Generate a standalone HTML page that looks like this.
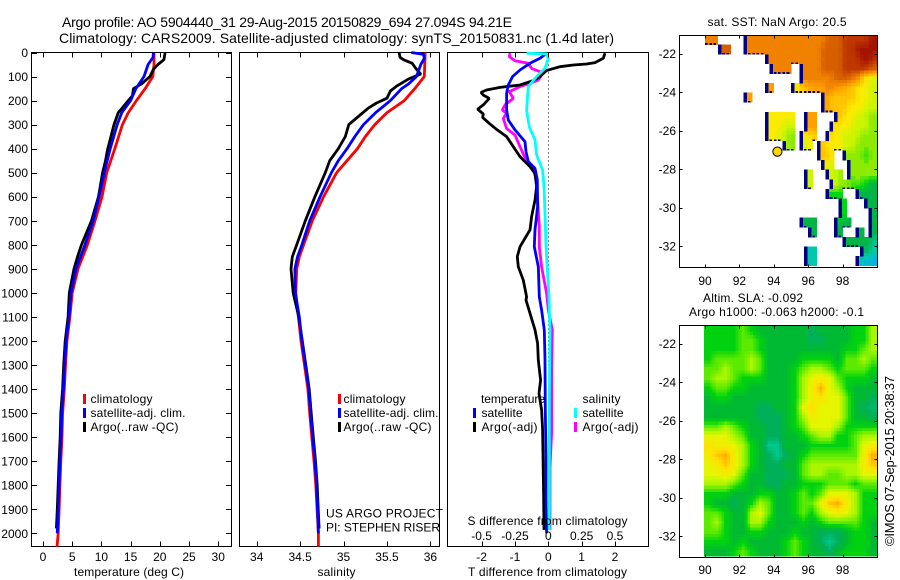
<!DOCTYPE html>
<html lang="en">
<head>
<meta charset="utf-8">
<title>Argo profile</title>
<style>
html,body{margin:0;padding:0;background:#fff;width:900px;height:580px;overflow:hidden}
svg{display:block;font-family:"Liberation Sans",sans-serif;fill:#000}
text{font-size:12px}
</style>
</head>
<body>
<svg id="chart" xmlns="http://www.w3.org/2000/svg" width="900" height="580" viewBox="0 0 900 580">
<rect width="900" height="580" fill="#fff"/>
<text x="62" y="27" style="font-size:14px" textLength="450">Argo profile: AO 5904440_31 29-Aug-2015 20150829_694 27.094S 94.21E</text>
<text x="59" y="43" style="font-size:14px" textLength="555">Climatology: CARS2009. Satellite-adjusted climatology: synTS_20150831.nc (1.4d later)</text>
<text transform="translate(894,546) rotate(-90)" x="0" y="0" style="font-size:13px" textLength="170">©IMOS 07-Sep-2015 20:38:37</text>
</svg>
<script>
// ---------- Depth axis ----------
const depthTicks = [0,100,200,300,400,500,600,700,800,900,1000,1100,1200,1300,1400,1500,1600,1700,1800,1900,2000];

// ---------- Temperature panel ----------
const tempTicks = [0,5,10,15,20,25,30];
const climTempDepth = [0,50,100,150,200,250,300,400,500,600,700,800,900,1000,1100,1200,1300,1400,1500,1600,1700,1800,1900,2000,2056];
const climTemp = [19,19,18.8,17.5,16,14.6,13.6,12.3,10.9,10.1,8.9,7.6,6,5,4.6,4.1,3.85,3.65,3.35,3.25,3.05,2.9,2.75,2.6,2.4];
const satTempDepth = [0,20,50,100,150,200,250,300,400,500,600,700,800,900,1000,1100,1200,1300,1400,1500,1600,1700,1800,1900,2000];
const satTemp = [18.9,18.85,18,17.3,15.9,15,13.5,12.7,11.5,10.5,9.6,8.6,7.2,5.65,4.8,4.45,3.95,3.7,3.5,3.2,3.1,2.9,2.75,2.6,2.45];
const argoTempDepth = [0,30,50,70,100,130,150,180,200,230,250,300,400,450,500,600,700,800,850,900,1000,1100,1200,1300,1400,1500,1600,1700,1800,1900,1980];
const argoTemp = [20.9,20.7,19.7,18.9,18.3,16.9,15.5,15.3,14.6,13.6,12.9,12.15,11.1,10.7,10.2,9.5,8.3,6.6,5.9,5.3,4.5,4.3,3.8,3.55,3.35,3.05,2.95,2.75,2.6,2.45,2.3];

// ---------- Salinity panel ----------
const salTicks = [34,34.5,35,35.5,36];
const climSalDepth = [0,100,150,200,250,300,350,400,450,500,600,700,800,850,900,1000,1100,1200,1300,1400,1500,1600,1700,1800,1900,2000,2056];
const climSal = [35.94,35.93,35.82,35.7,35.5,35.36,35.25,35.16,35.04,34.92,34.77,34.64,34.54,34.49,34.46,34.45,34.48,34.51,34.55,34.59,34.61,34.635,34.66,34.68,34.695,34.71,34.71];
const satSalDepth = [0,8,25,50,100,130,150,200,250,300,350,400,450,500,600,700,800,850,900,1000,1100,1200,1300,1400,1500,1600,1700,1800,1900,2000];
const satSal = [35.78,35.92,35.93,35.89,35.84,35.75,35.67,35.54,35.37,35.23,35.13,35.04,34.94,34.86,34.73,34.61,34.52,34.47,34.44,34.445,34.49,34.52,34.56,34.6,34.62,34.645,34.67,34.69,34.7,34.71];
const argoSalDepth = [0,20,30,45,55,70,90,110,140,160,190,210,230,260,300,350,400,450,500,600,700,800,850,900,1000,1100,1200,1300,1400,1500,1600,1700,1800,1900,1980];
const argoSal = [35.64,35.65,35.69,35.79,35.81,35.84,35.89,35.75,35.61,35.54,35.5,35.38,35.29,35.19,35.06,35.02,34.94,34.84,34.79,34.67,34.56,34.46,34.41,34.395,34.42,34.485,34.525,34.565,34.605,34.628,34.652,34.677,34.697,34.708,34.718];

// ---------- Difference panel ----------
const tDiffTicks = [-2,-1,0,1,2];
const sDiffTicks = ["-0.5","-0.25","0","0.25","0.5"];
const diffTempArgoDepth = [3,24,42,48,52,59,75,100,117,135,145,156,166,177,191,218,236,256,270,295,320,350,392,433,475,503,558,614,683,738,808,849,891,947,1016,1030,1085,1154,1210,1279,1363,1418,1487,1570,1834,1986];
const diffTempArgo = [1.7,1.65,1.4,1.15,0.75,0.35,-0.05,-0.25,-0.45,-0.85,-1.45,-1.85,-2.02,-1.95,-1.77,-1.95,-2.12,-1.95,-1.97,-1.77,-1.55,-1.25,-1.05,-0.85,-0.55,-0.4,-0.35,-0.4,-0.5,-0.55,-0.85,-0.93,-0.9,-0.75,-0.65,-0.67,-0.55,-0.4,-0.32,-0.3,-0.23,-0.28,-0.2,-0.17,-0.14,-0.13];
const diffTempSatDepth = [3,24,45,73,100,135,170,239,281,322,371,412,454,482,530,641,738,808,891,1016,1071,1154,1279,1487,1681,1862,2000];
const diffTempSat = [-0.05,-0.25,-0.55,-0.85,-1.07,-1.2,-1.25,-1.25,-1.2,-1,-0.7,-0.67,-0.6,-0.4,-0.33,-0.32,-0.4,-0.42,-0.3,-0.27,-0.2,-0.12,-0.1,-0.09,-0.07,-0.07,-0.05];
const diffSalArgoDepth = [3,17,34,45,66,80,94,114,128,142,163,191,218,239,253,274,316,343,392,447,489,530,614,725,808,891,1002,1071,1154,1307,1584,1723,1986];
const diffSalArgo = [-0.2875,-0.2925,-0.25,-0.15,-0.125,-0.0625,-0.05,-0.075,-0.1375,-0.2125,-0.2925,-0.2625,-0.325,-0.345,-0.3125,-0.3375,-0.3125,-0.25,-0.2125,-0.1675,-0.1125,-0.0875,-0.08,-0.0675,-0.0675,-0.05,-0.0125,0,0.03,0.025,0.025,0.0125,0.0125];
const diffSalSatDepth = [3,6,24,66,100,142,198,239,309,364,426,489,558,669,808,1016,1071,1154,1445,1723,1986];
const diffSalSat = [-0.1625,-0.0125,0,-0.025,-0.0875,-0.15,-0.1575,-0.1625,-0.1425,-0.1,-0.0875,-0.0425,-0.0325,-0.025,-0.0175,0.005,0.0075,0.0125,0.0075,0.0075,0.0075];

// ---------- Maps ----------
const lonTicks = [90,92,94,96,98];
const latTicks = [-22,-24,-26,-28,-30,-32];
const argoLon = 94.21;
const argoLat = -27.094;
// SST colour-level cells: [startColumn, "levels", ...] per 0.5-degree row, columns 0.25 degree wide from 90E
const sstRows = [
[0,"333",9,"3333333333333333333222211111100"],
[3,"222",9,"3333333333333333332222211100000"],
[14,"33333333333332222211110001"],
[15,"33333",22,"333332222211111122"],
[22,"333333332222335667"],
[14,"44",20,"66554444334445566677"],
[9,"44",27,"4455555566677"],
[27,"4455556666777"],
[14,"6666666",23,"444",30,"5566677788"],
[14,"6666777",23,"444",29,"56666777788"],
[14,"6667788",22,"7665",28,"566677778888"],
[18,"788",22,"776",26,"55666677788888"],
[26,"5556",32,"88888988"],
[27,"667",33,"8888888"],
[23,"77",28,"7778",33,"8888888"],
[23,"77",29,"77888",34,"9899aa"],
[28,"9999",35,"aaaaa"],
[31,"99",37,"aaa"],
[31,"99",38,"aa"],
[22,"aaaa",30,"9aaa",38,"aa"],
[24,"aa",30,"aa",35,"aa",38,"aa"],
[32,"aaaaaa",38,"ab"],
[23,"bbb",36,"aabb"],
[23,"bbb",35,"bbcbc"]
];
const sstPalette = [[165,20,0],[190,55,0],[215,95,0],[240,130,0],[255,160,0],[255,195,0],[250,235,0],[205,245,0],[140,235,0],[0,215,20],[0,180,70],[0,200,170],[0,170,255]];
// SLA colour levels: 24 rows (0.5 deg lat) by 20 columns (0.5 deg lon)
const slaRows = [
[3,3,3,3,4,3,2,2,2,2,2,2,1,2,2,2,2,3,3,5],
[3,3,3,3,4,4,3,2,2,2,2,2,1,1,2,2,2,3,3,5],
[3,3,3,3,4,4,3,2,2,2,2,2,2,2,2,2,3,3,4,5],
[3,4,4,4,4,5,4,2,2,2,2,3,3,3,3,2,4,4,5,4],
[4,4,5,4,4,5,4,2,2,2,3,4,5,5,4,3,4,4,4,3],
[4,5,5,4,3,3,3,2,2,2,3,5,6,6.5,6,4,3,3,3,2],
[3,4,4,3,3,2,2,2,2,2,3,5,6.5,8,6,5,3,2,2,2],
[2,3,3,2,2,2,2,2,2,2,3,5,6.5,7,6,6,4,2,2,1],
[2,2,2,2,2,2,1,1,2,2,3,6,7,6,6,6,4,2,1,0.6],
[2,2,2,2,2,2,1,1,1,2,3,5,6.5,6,6,6,4,2,2,1],
[4,4,5,4,3,2,2,1,1,2,3,4,6,6,6,5,3,3,3,3],
[6,6,6,5,4,2,2,1,1,2,2,3,4,5,5,3,3,4,5,5],
[7,6.5,6.5,6,5,3,2,0,0,2,2,2,3,3,3,3,3,4,6,6.5],
[6.5,7.5,8,6.5,5,3,2,1,0,1,2,3,4,4,4,4,4,4,6.5,8],
[6,6.5,7.5,6.5,5,3,2,1,1,2,2,4,5,5,5,5,5,5,6.5,7.5],
[6,6,6.5,6,4,2,2,1,1,1,2,4,5,5,4,4,5,5,6,6],
[5,5,5,4,3,2,2,1,1,2,2,3,3,3,4,4,4,3,4,4],
[3,3,3,2,2,2,3,3,2,2,3,4,3,4,6,6,6,5,3,3],
[3,2,2,1,2,3,5,4,2,2,3,4,4,6,7.5,8,6.5,5,3,3],
[4,4,3,2,2,5,6,4,2,2,3,4,3,5,6,6.5,6,5,3,3],
[4,5,3,2,2,5,5,3,2,2,2,3,2,3,4,4,4,4,3,2],
[4,4,3,2,2,3,3,2,2,2,3,2,2,1,1,1,2,3,3,2],
[3,3,3,2,3,2,2,2,2,3,4,3,2,1,0,1,2,3,3,2],
[2,2,2,3,4,3,2,2,2,3,4,3,2,2,1,2,3,3,3,2]
];
const slaPalette = [[0,200,140],[0,175,90],[0,185,50],[0,210,15],[90,235,0],[170,245,0],[230,245,0],[255,225,0],[255,175,0]];

// ---------- Axis functions ----------
const svg = document.getElementById('chart');
const NS = 'http://www.w3.org/2000/svg';
const PT = 52.5, PB = 546.5;
const depthY = d => 52.5 + 0.2404 * d;
const tempX = t => 43 + 5.84 * t;
const salX = s => 256.7 + 86.85 * (s - 34);
const tDiffX = t => 548.3 + 33.33 * t;
const sDiffX = s => 548.3 + 133.33 * s;
const lonX = l => 705 + 17.2 * (l - 90);
const map1Y = l => 53.7 + 19.23 * (-22 - l);
const map2Y = l => 343.7 + 19.23 * (-22 - l);

function mk(tag, attrs, parent) {
  const el = document.createElementNS(NS, tag);
  for (const k in attrs) el.setAttribute(k, attrs[k]);
  (parent || svg).appendChild(el);
  return el;
}
function txt(str, x, y, anchor, len) {
  const el = mk('text', {x: x, y: y, 'text-anchor': anchor || 'start'});
  if (len) el.setAttribute('textLength', len);
  el.textContent = str;
  return el;
}
function seg(g, x1, y1, x2, y2) {
  return mk('line', {x1: x1, y1: y1, x2: x2, y2: y2, stroke: '#000', 'stroke-width': 1, 'shape-rendering': 'crispEdges'}, g);
}
function frame(name, l, t, r, b) {
  const f = mk('rect', {x: l, y: t, width: r - l, height: b - t, fill: 'none', stroke: '#000', 'stroke-width': 1, 'shape-rendering': 'crispEdges'});
  
  
}
function profile(name, xs, depths, scaleX, color, width) {
  const pts = xs.map((v, i) => scaleX(v).toFixed(1) + ',' + depthY(depths[i]).toFixed(1)).join(' ');
  const p = mk('polyline', {points: pts, fill: 'none', stroke: color, 'stroke-width': width || 2.8, 'stroke-linejoin': 'bevel'});
  
  
}
function legendEntry(name, label, swatchX, textX, cy, color, len) {
  const s = mk('rect', {x: swatchX, y: cy - 5, width: 3, height: 10, fill: color, 'shape-rendering': 'crispEdges'});
  
  
  const t = txt(label, textX, cy + 4, 'start', len);
  
  
}
function paletteColour(pal, v) {
  const i = Math.max(0, Math.min(pal.length - 2, Math.floor(v))), t = Math.max(0, Math.min(1, v - i));
  const p = pal[i], q = pal[i + 1];
  return 'rgb(' + [0, 1, 2].map(k => Math.round(p[k] + (q[k] - p[k]) * t)).join(',') + ')';
}

// ---------- Maps first (underneath frames) ----------
(function drawSST() {
  const g = mk('g', {'shape-rendering': 'crispEdges'});
  
  
  const grid = sstRows.map(spans => {
    const row = new Array(40).fill(null);
    for (let i = 0; i < spans.length; i += 2) {
      const start = spans[i], levels = spans[i + 1];
      for (let j = 0; j < levels.length; j++) {
        if (start + j < 40) row[start + j] = parseInt(levels[j], 16);
      }
    }
    return row;
  });
  const top = map1Y(-21.03);
  const cw = 0.25 * 17.2, ch = 0.5 * 19.23, sub = 3;
  const val = (r, c) => (r < 0 || r >= grid.length || c < 0 || c >= 40) ? null : grid[r][c];
  grid.forEach((row, r) => {
    row.forEach((v, c) => {
      if (v === null) return;
      const x = lonX(90 + c * 0.25), y = top + r * ch;
      const l = val(r, c - 1), rr = val(r, c + 1);
      let h = v, w = 1;
      if (l !== null) { h += 0.4 * l; w += 0.4; }
      if (rr !== null) { h += 0.4 * rr; w += 0.4; }
      h /= w;
      for (let s = 0; s < sub; s++) {
        const t = (s + 0.5) / sub - 0.5;
        const n = val(t < 0 ? r - 1 : r + 1, c);
        const a = Math.abs(t);
        const shade = n === null ? h : h * (1 - a) + n * a;
        const cell = mk('rect', {x: x.toFixed(2), y: (y + s * ch / sub).toFixed(2), width: (cw + 0.3).toFixed(2), height: (ch / sub + 0.3).toFixed(2), fill: paletteColour(sstPalette, shade)}, g);
        
        
      }
    });
  });
  grid.forEach((row, r) => {
    row.forEach((v, c) => {
      if (v === null) return;
      const x = lonX(90 + c * 0.25), y = top + r * ch;
      if (c > 0 && row[c - 1] === null) {
        const e = mk('rect', {x: x.toFixed(2), y: y.toFixed(2), width: 3.5, height: (ch + 0.3).toFixed(2), fill: '#000080'}, g);
        
        
      }
      if (r < grid.length - 1 && grid[r + 1][c] === null) {
        const b = mk('rect', {x: x.toFixed(2), y: (y + ch - 1.5).toFixed(2), width: (cw * 0.6).toFixed(2), height: 1.8, fill: '#000080'}, g);
        
        
      }
    });
  });
})();

(function drawSLA() {
  const g = mk('g', {'shape-rendering': 'crispEdges'});
  
  
  const nr = slaRows.length, nc = slaRows[0].length, sub = 3;
  const top = map2Y(-21.05);
  const cw = 0.5 * 17.2, ch = 0.5 * 19.23;
  const at = (r, c) => slaRows[Math.max(0, Math.min(nr - 1, r))][Math.max(0, Math.min(nc - 1, c))];
  function sample(fr, fc) {
    const r0 = Math.floor(fr), c0 = Math.floor(fc), a = fr - r0, b = fc - c0;
    return at(r0, c0) * (1 - a) * (1 - b) + at(r0, c0 + 1) * (1 - a) * b + at(r0 + 1, c0) * a * (1 - b) + at(r0 + 1, c0 + 1) * a * b;
  }
  for (let r = 0; r < nr * sub; r++) {
    for (let c = 0; c < nc * sub; c++) {
      const v = sample((r + 0.5) / sub - 0.5, (c + 0.5) / sub - 0.5);
      const cell = mk('rect', {x: (lonX(90) - 1 + c * (cw + 0.05) / sub).toFixed(2), y: (top + r * ch / sub).toFixed(2), width: (cw / sub + 0.3).toFixed(2), height: (ch / sub + 0.3).toFixed(2), fill: paletteColour(slaPalette, v)}, g);
      
      
    }
  }
})();

// ---------- Panel 1: temperature ----------
frame('temperature-panel-frame', 31.5, PT, 231.5, PB);
profile('temperature-climatology-line', climTemp, climTempDepth, tempX, '#ff0000');
profile('temperature-argo-line', argoTemp, argoTempDepth, tempX, '#000000');
profile('temperature-satellite-line', satTemp, satTempDepth, tempX, '#0000ff');
(function () {
  const g = mk('g', {});
  
  
  depthTicks.forEach(d => {
    const y = Math.round(depthY(d)) + 0.5;
    seg(g, 31.5, y, 37, y);
    seg(g, 226, y, 231.5, y);
    const t = txt(String(d), 28, depthY(d) + 4.5, 'end');
    
    
  });
  tempTicks.forEach(v => {
    const x = Math.round(tempX(v)) + 0.5;
    seg(g, x, PT, x, PT + 5);
    seg(g, x, PB - 5, x, PB);
    const t = txt(String(v), tempX(v), 561, 'middle');
    
    
  });
})();
const xl1 = txt('temperature (deg C)', 129, 576, 'middle', 110);


legendEntry('temp-legend-climatology', 'climatology', 83, 90.5, 399, '#ff0000', 62);
legendEntry('temp-legend-satellite', 'satellite-adj. clim.', 83, 90.5, 413, '#0000ff', 95);
legendEntry('temp-legend-argo', 'Argo(..raw -QC)', 83, 90.5, 427, '#000000', 88);

// ---------- Panel 2: salinity ----------
frame('salinity-panel-frame', 239.5, PT, 439.5, PB);
profile('salinity-climatology-line', climSal, climSalDepth, salX, '#ff0000');
profile('salinity-argo-line', argoSal, argoSalDepth, salX, '#000000');
profile('salinity-satellite-line', satSal, satSalDepth, salX, '#0000ff');
(function () {
  const g = mk('g', {});
  
  
  salTicks.forEach(v => {
    const x = Math.round(salX(v)) + 0.5;
    seg(g, x, PT, x, PT + 5);
    seg(g, x, PB - 5, x, PB);
    const t = txt(String(v), salX(v), 561, 'middle');
    
    
  });
})();
const xl2 = txt('salinity', 336.5, 576, 'middle', 38);


legendEntry('sal-legend-climatology', 'climatology', 338, 343.5, 399, '#ff0000', 62);
legendEntry('sal-legend-satellite', 'satellite-adj. clim.', 338, 343.5, 413, '#0000ff', 95);
legendEntry('sal-legend-argo', 'Argo(..raw -QC)', 338, 343.5, 427, '#000000', 88);
const pr1 = txt('US ARGO PROJECT', 326, 517.5, 'start', 117);


const pr2 = txt('PI: STEPHEN RISER', 326, 531.5, 'start', 114);



// ---------- Panel 3: differences ----------
frame('difference-panel-frame', 447.5, PT, 648.5, PB);
const zero = mk('line', {x1: 548.5, y1: PT, x2: 548.5, y2: depthY(1300), stroke: '#000', 'stroke-width': 1, 'stroke-dasharray': '1 3', 'shape-rendering': 'crispEdges'});


profile('salinity-diff-argo-line', diffSalArgo, diffSalArgoDepth, sDiffX, '#ff00ff', 2.8);
profile('temperature-diff-argo-line', diffTempArgo, diffTempArgoDepth, tDiffX, '#000000', 2.8);
profile('temperature-diff-satellite-line', diffTempSat, diffTempSatDepth, tDiffX, '#0000ff', 2.8);
profile('salinity-diff-satellite-line', diffSalSat, diffSalSatDepth, sDiffX, '#00ffff', 2.8);
(function () {
  const g = mk('g', {});
  
  
  tDiffTicks.forEach((v, i) => {
    const x = Math.round(tDiffX(v)) + 0.5;
    seg(g, x, PT, x, PT + 5);
    seg(g, x, PB - 5, x, PB);
    const t = txt(String(v), tDiffX(v), 561, 'middle');
    
    
    const s = txt(sDiffTicks[i], sDiffX(parseFloat(sDiffTicks[i])), 540, 'middle');
    
    
  });
})();
const xl3 = txt('T difference from climatology', 547.5, 576, 'middle', 159);


const xl4 = txt('S difference from climatology', 547.5, 525, 'middle', 160);


const lh1 = txt('temperature', 481, 403, 'start', 64);


const lh2 = txt('salinity', 582.5, 403, 'start', 38);


legendEntry('diff-legend-temp-satellite', 'satellite', 473, 481.5, 413, '#0000ff', 41);
legendEntry('diff-legend-temp-argo', 'Argo(-adj)', 473, 481.5, 427, '#000000', 56);
legendEntry('diff-legend-sal-satellite', 'satellite', 574, 582.5, 413, '#00ffff', 41);
legendEntry('diff-legend-sal-argo', 'Argo(-adj)', 574, 582.5, 427, '#ff00ff', 56);

// ---------- Map axes ----------
function mapAxes(name, top, bottom, scaleY, labelY) {
  frame(name + '-frame', 679.5, top, 877.5, bottom);
  const g = mk('g', {});
  
  
  lonTicks.forEach(l => {
    const x = Math.round(lonX(l)) + 0.5;
    seg(g, x, top, x, top + 3);
    seg(g, x, bottom - 3, x, bottom);
    const t = txt(String(l), lonX(l), labelY, 'middle');
    
    
  });
  latTicks.forEach(l => {
    const y = Math.round(scaleY(l)) + 0.5;
    seg(g, 679.5, y, 682.5, y);
    seg(g, 874.5, y, 877.5, y);
    const t = txt(String(l), 676, scaleY(l) + 4.5, 'end');
    
    
  });
}
mapAxes('sst-map', 35.5, 267.5, map1Y, 285);
mapAxes('sla-map', 325.5, 557.5, map2Y, 574);

const argoDot = mk('circle', {cx: lonX(argoLon), cy: map1Y(argoLat), r: 4.6, fill: '#fad700', stroke: '#000', 'stroke-width': 1});



const mt1 = txt('sat. SST: NaN  Argo: 20.5', 777, 26, 'middle', 139);


const mt2 = txt('Altim. SLA: -0.092', 753, 302, 'middle', 100);


const mt3 = txt('Argo h1000: -0.063  h2000: -0.1', 776.5, 316, 'middle', 175);


</script>
</body>
</html>
